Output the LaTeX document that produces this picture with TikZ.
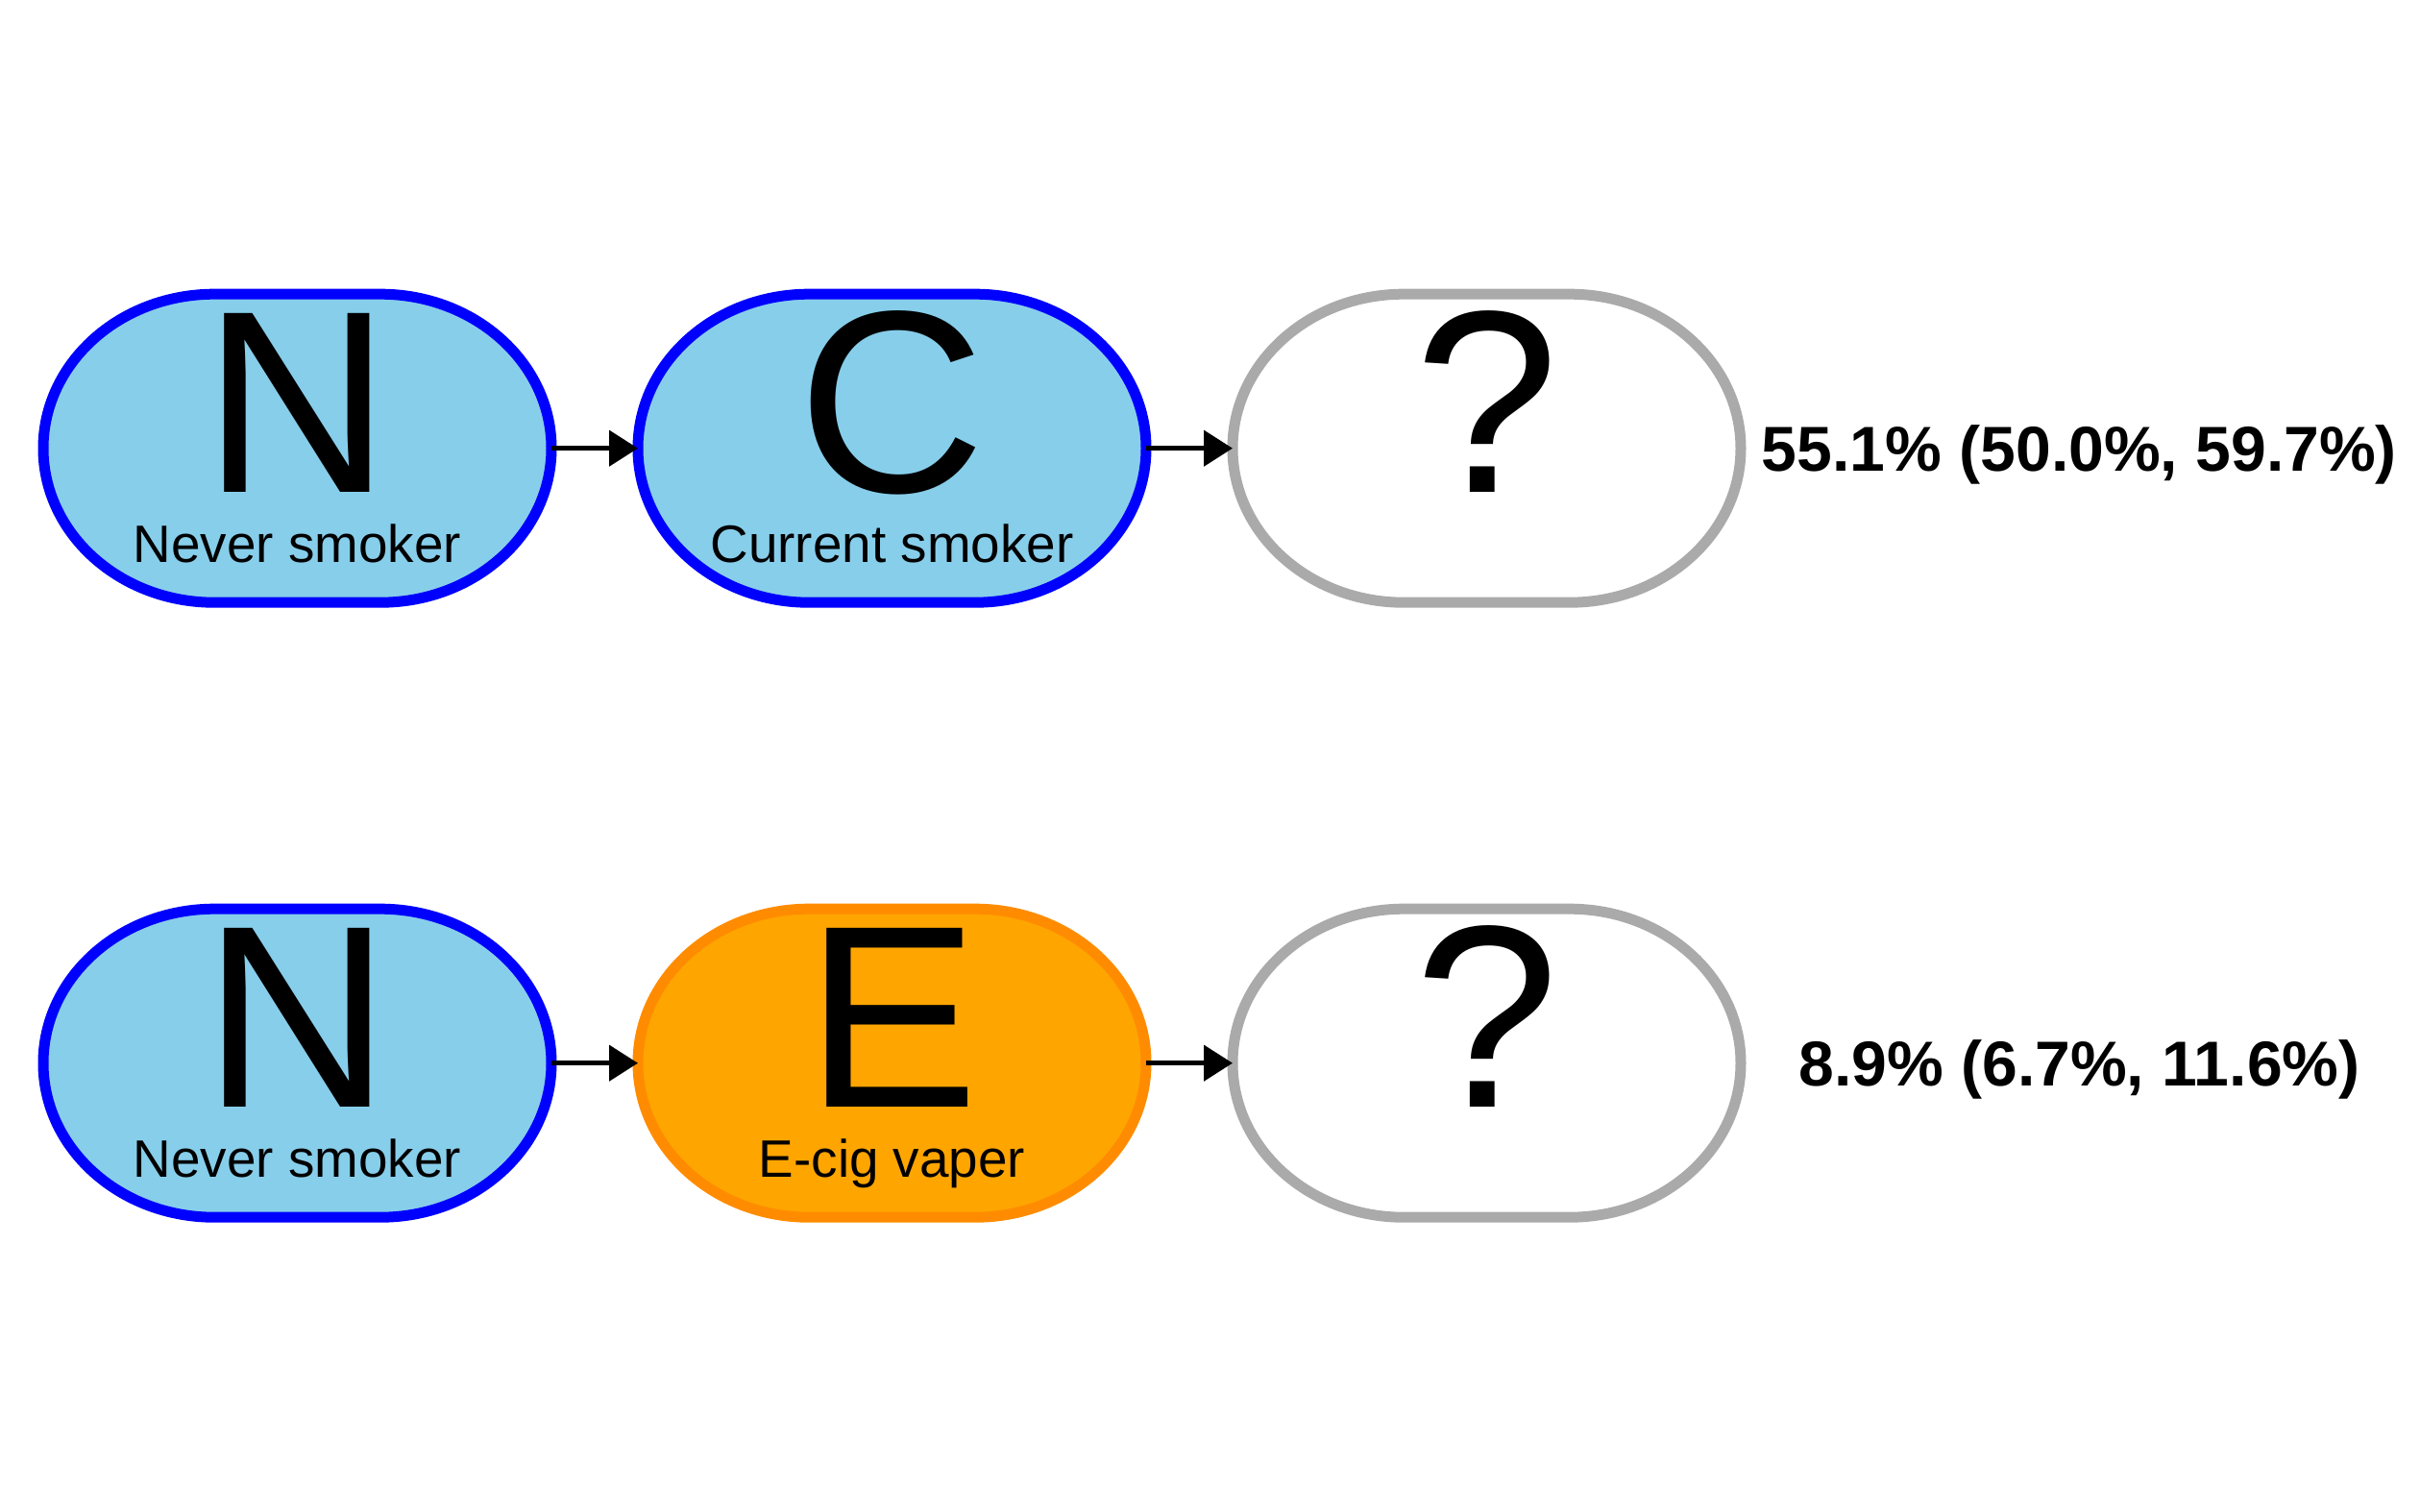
\documentclass[tikz,border=0pt]{standalone}
\usepackage{fontspec}
\setmainfont{Liberation Sans}
\usepackage{tikz}
\usetikzlibrary{arrows.meta}
\pgfdeclarelayer{background}
\pgfsetlayers{background,main}
\definecolor{nodeblue}{HTML}{0000FF}
\definecolor{fillblue}{HTML}{87CEEB}
\definecolor{lineorange}{HTML}{FF8C00}
\definecolor{fillorange}{HTML}{FFA500}
\definecolor{linegray}{HTML}{AAAAAA}
\tikzstyle{state}=[rectangle
,minimum width=5.29cm
,minimum height=3.21cm
,inner sep=0pt
,outer sep=0pt
]
\tikzstyle{rim} = [line width=0.11cm, line join=round]
\tikzstyle{blue rim} = [rim, draw=nodeblue, fill=fillblue]
\tikzstyle{orange rim} = [rim, draw=lineorange, fill=fillorange]
\tikzstyle{gray rim} = [rim, draw=linegray, fill=white]
\tikzstyle{letter} = [anchor=base, inner sep=0pt, font=\fontsize{77}{77}\selectfont]
\tikzstyle{caption} = [anchor=base, inner sep=0pt, font=\fontsize{15.6}{18}\selectfont]
\tikzstyle{share} = [anchor=base, inner sep=0pt, font=\bfseries\fontsize{18.8}{22}\selectfont]
\tikzstyle{edge} = [draw, line width=1.3pt, -{Triangle[length=0.30cm,width=0.37cm]}]
% outline of a state: flat top and bottom, half ellipses at the ends
\newcommand{\stadium}[2]{%
  \path[#2] (#1.west)
    arc[start angle=180, end angle=90, x radius=1.78cm, y radius=1.605cm]
    -- ([xshift=-1.78cm]#1.north east)
    arc[start angle=90, end angle=-90, x radius=1.78cm, y radius=1.605cm]
    -- ([xshift=1.78cm]#1.south west)
    arc[start angle=270, end angle=180, x radius=1.78cm, y radius=1.605cm] -- cycle;}

\begin{document}
\begin{tikzpicture}
    \useasboundingbox (0,0) rectangle (25.19,-15.74);
    % First we draw the states
    \foreach \pos/\name/\look/\txt/\cap in {{(3.095,-4.667)/N_1/blue rim/N/Never smoker},
        {(9.285,-4.667)/C_1/blue rim/C/Current smoker}, {(15.475,-4.667)/Q_1/gray rim/?/},
        {(3.095,-11.067)/N_2/blue rim/N/Never smoker}, {(9.285,-11.067)/E_2/orange rim/E/E-cig vaper},
        {(15.475,-11.067)/Q_2/gray rim/?/}}
    {
        \node[state] (\name) at \pos {};
        \node[letter] (\name l) at ([yshift=-0.46cm]\name.center) {\txt};
        \node[caption] (\name c) at ([yshift=-1.19cm]\name.center) {\cap};
        \begin{pgfonlayer}{background}
            \stadium{\name}{\look}
        \end{pgfonlayer}
    }

    % Connect states with edges
    \foreach \source/ \dest in {N_1/C_1, C_1/Q_1, N_2/E_2, E_2/Q_2}
        \path[edge] (\source) -- (\dest) ;

    % estimates
    \node[share] (P_1) at ([xshift=6.17cm,yshift=-0.235cm]Q_1.center) {55.1\% (50.0\%, 59.7\%)};
    \node[share] (P_2) at ([xshift=6.17cm,yshift=-0.235cm]Q_2.center) {8.9\% (6.7\%, 11.6\%)};
\end{tikzpicture}
\end{document}
